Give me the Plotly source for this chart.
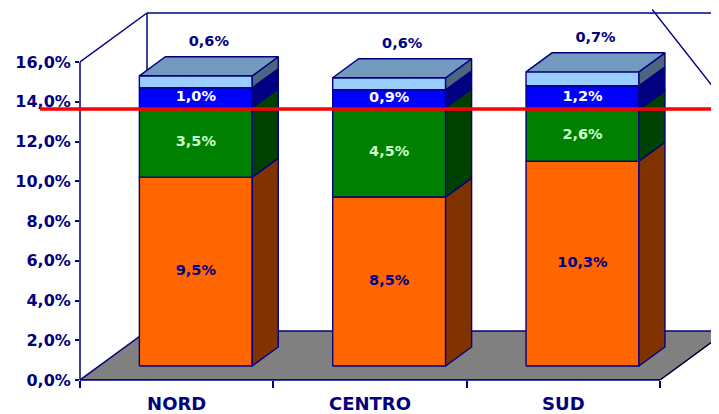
import plotly.graph_objects as go

# ---------------- data ----------------
categories = ["NORD", "CENTRO", "SUD"]
orange_vals = [9.5, 8.5, 10.3]
green_vals = [3.5, 4.5, 2.6]
blue_vals = [1.0, 0.9, 1.2]
lightblue_vals = [0.6, 0.6, 0.7]
series = [orange_vals, green_vals, blue_vals, lightblue_vals]

y_tickvals = [0, 2, 4, 6, 8, 10, 12, 14, 16]
y_ticktext = ["0,0%", "2,0%", "4,0%", "6,0%", "8,0%", "10,0%", "12,0%", "14,0%", "16,0%"]
ref_value = 13.63  # red reference line

# ---------------- styles ----------------
front_colors = ["#FF6600", "#008000", "#0000FF", "#99CCFF"]
side_colors = ["#803300", "#004000", "#000080", "#4D6680"]
top_color = "#7399BF"
label_colors = ["#000080", "#CCFFCC", "#FFFFFF", "#000080"]
NAVY = "#000080"
FONT = "DejaVu Sans"

PAGE_OFF = 8            # default body margin of the html page
W, H = 719 - PAGE_OFF, 414 - PAGE_OFF
ML, MB = 80 - PAGE_OFF, 34
PLOT_W = W - ML
PLOT_H = H - MB
px_per_cat = 193.33
px_per_pct = 19.875
x_range = [-0.5, -0.5 + PLOT_W / px_per_cat]
y_range = [0, PLOT_H / px_per_pct]

# depth of the 3D box (in data units)
DX = 67 / px_per_cat
DY = 49 / px_per_pct
F0, F1 = 0.286, 0.674   # bar front / back depth fractions
HW = 0.292              # bar half width (category units)


def P(x, v, f):
    return x + f * DX, v + f * DY


def poly(points, fill, line_color=NAVY, width=1.4):
    xs = [p[0] for p in points] + [points[0][0]]
    ys = [p[1] for p in points] + [points[0][1]]
    return go.Scatter(x=xs, y=ys, mode="lines", fill="toself", fillcolor=fill,
                      line=dict(color=line_color, width=width),
                      hoverinfo="skip", showlegend=False)


def seg_line(p0, p1, color=NAVY, width=1.5):
    return go.Scatter(x=[p0[0], p1[0]], y=[p0[1], p1[1]], mode="lines",
                      line=dict(color=color, width=width),
                      hoverinfo="skip", showlegend=False)


fig = go.Figure()

# walls (white) + edges
x0, x1 = -0.5, 2.5
top = y_tickvals[-1]
fig.add_trace(seg_line(P(x0, top, 0), P(x0, top, 1)))
fig.add_trace(seg_line(P(x0, 0, 1), P(x0, top, 1)))
fig.add_trace(seg_line(P(x0, top, 1), P(x1, top, 1)))

# floor
fig.add_trace(poly([P(x0, 0, 0), P(x1, 0, 0), P(x1, 0, 1), P(x0, 0, 1)], "#808080", NAVY, 1.5))
fig.add_trace(seg_line(P(x1, 0, 0), P(x1, 0, 1), "#000000", 1))

# bars
for i, cat in enumerate(categories):
    base = 0.0
    for k, vals in enumerate(series):
        v = vals[i]
        t = base + v
        xl, xr = i - HW, i + HW
        fig.add_trace(poly([P(xl, base, F0), P(xr, base, F0), P(xr, t, F0), P(xl, t, F0)],
                           front_colors[k]))
        fig.add_trace(poly([P(xr, base, F0), P(xr, base, F1), P(xr, t, F1), P(xr, t, F0)],
                           side_colors[k]))
        base = t
    fig.add_trace(poly([P(i - HW, base, F0), P(i + HW, base, F0), P(i + HW, base, F1),
                        P(i - HW, base, F1)], top_color))

# data labels
for k, vals in enumerate(series):
    xs, ys, texts = [], [], []
    for i in range(len(categories)):
        b = sum(series[j][i] for j in range(k))
        txt = f"{vals[i]:.1f}%".replace(".", ",")
        if k == len(series) - 1:
            total = b + vals[i]
            px_, py_ = P(i, total + 1.7, F0)
            px_ += (F1 - F0) / 2 * DX
        else:
            px_, py_ = P(i, b + vals[i] / 2, F0)
        xs.append(px_)
        ys.append(py_)
        texts.append(txt)
    fig.add_trace(go.Scatter(x=xs, y=ys, mode="text", text=texts,
                             textposition="middle center",
                             textfont=dict(family=FONT, size=14.5, color=label_colors[k], weight="bold"),
                             hoverinfo="skip", showlegend=False))

fig.update_layout(
    width=W, height=H, autosize=False,
    margin=dict(l=ML, r=0, t=0, b=MB, pad=0, autoexpand=False),
    paper_bgcolor="white", plot_bgcolor="white",
    xaxis=dict(range=x_range, showgrid=False, zeroline=False, showline=False, automargin=False,
               tickmode="array", tickvals=list(range(len(categories))), ticktext=categories,
               ticks="", ticklabelstandoff=11,
               tickfont=dict(family=FONT, size=18, color=NAVY, weight="bold"),
               minor=dict(tickmode="array", tickvals=[-0.5, 0.5, 1.5, 2.5], ticks="outside",
                          ticklen=7, tickwidth=1.5, tickcolor=NAVY, showgrid=False)),
    yaxis=dict(range=y_range, showgrid=False, zeroline=False, showline=False, automargin=False,
               tickmode="array", tickvals=y_tickvals, ticktext=y_ticktext,
               ticks="outside", ticklen=4, tickwidth=1.5, tickcolor=NAVY,
               ticklabelstandoff=1,
               tickfont=dict(family=FONT, size=16, color=NAVY, weight="bold")),
    shapes=[
        dict(type="line", xref="paper", yref="y", x0=0, x1=0, y0=0, y1=top,
             line=dict(color=NAVY, width=1.5)),
        dict(type="line", xref="x", yref="paper", x0=x0, x1=x1, y0=0, y1=0,
             line=dict(color=NAVY, width=1.5)),
        dict(type="line", xref="paper", yref="y", x0=-40 / PLOT_W, x1=1,
             y0=ref_value, y1=ref_value, line=dict(color="#FF0000", width=3.5)),
    ],
    annotations=[
        dict(xref="paper", yref="paper", x=(717 - 80) / PLOT_W, y=(380 - 92) / PLOT_H,
             text="", showarrow=True, arrowhead=1, arrowsize=1, arrowwidth=1.3,
             arrowcolor=NAVY, ax=-66, ay=-92),
    ],
)

fig.write_html("out.html")
